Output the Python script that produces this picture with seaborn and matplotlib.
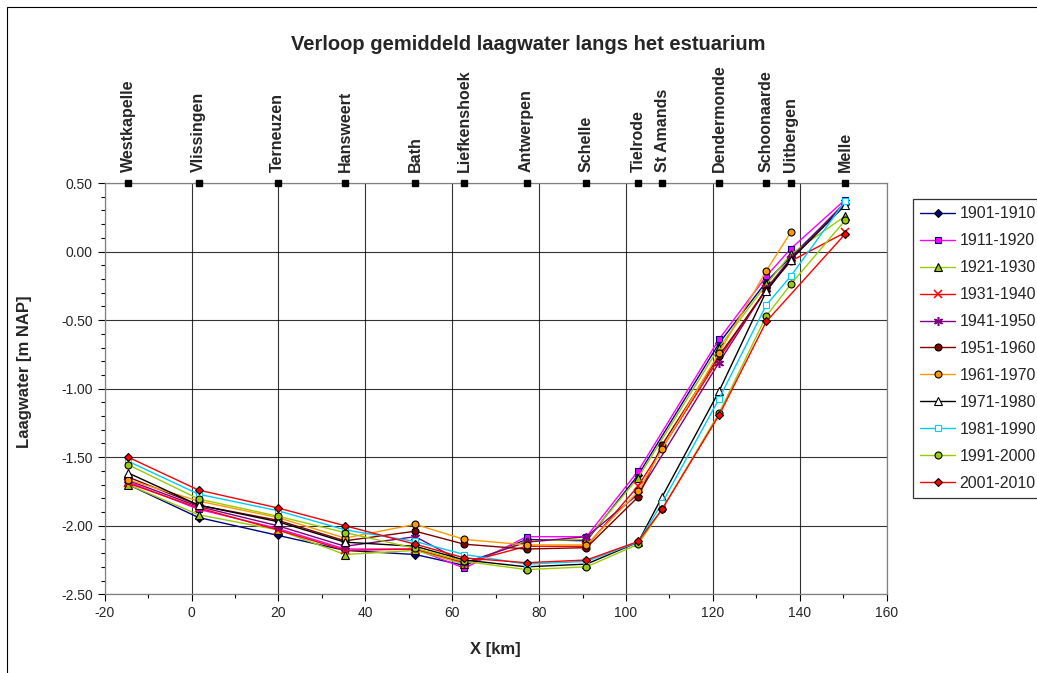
"""
Verloop gemiddeld laagwater langs het estuarium (Schelde),
decade means of low water per station.
"""
import numpy as np
import pandas as pd
import matplotlib
matplotlib.use("Agg")
import matplotlib.pyplot as plt
from matplotlib.patches import Rectangle
from matplotlib.ticker import MultipleLocator, FormatStrFormatter
import seaborn as sns

sns.set_theme(style="white")
plt.rcParams["font.family"] = ["Liberation Sans", "DejaVu Sans"]
plt.rcParams["axes.unicode_minus"] = False

# ── data ─────────────────────────────────────────────────────────────────────
STATIONS = ["Westkapelle", "Vlissingen", "Terneuzen", "Hansweert", "Bath",
            "Liefkenshoek", "Antwerpen", "Schelle", "Tielrode", "St Amands",
            "Dendermonde", "Schoonaarde", "Uitbergen", "Melle"]
STATION_KM = [-14.6, 1.6, 19.8, 35.3, 51.5, 62.8, 77.1, 90.9, 102.8, 108.3,
              121.4, 132.3, 137.9, 150.5]

nan = np.nan
lw_1901 = [-1.70, -1.94, -2.07, -2.18, -2.21, -2.29, -2.10, -2.11, -1.63, nan, -0.67, -0.22, -0.04, 0.35]
lw_1911 = [-1.68, -1.88, -2.02, -2.17, -2.17, -2.31, -2.08, -2.08, -1.60, nan, -0.64, -0.18, 0.02, 0.38]
lw_1921 = [-1.70, -1.92, -2.03, -2.21, -2.18, -2.28, -2.11, -2.10, -1.65, nan, -0.70, -0.24, -0.02, 0.26]
lw_1931 = [-1.69, -1.87, -2.03, -2.18, -2.17, -2.27, -2.15, -2.15, -1.71, nan, -0.78, -0.27, -0.07, 0.14]
lw_1941 = [-1.67, -1.86, -2.00, -2.15, -2.08, -2.27, -2.12, -2.08, -1.77, nan, -0.81, -0.27, -0.05, 0.36]
lw_1951 = [-1.645, -1.85, -1.96, -2.11, -2.04, -2.135, -2.17, -2.16, -1.79, -1.41, -0.76, -0.28, -0.07, nan]
lw_1961 = [-1.665, -1.82, -1.94, -2.09, -1.99, -2.10, -2.14, -2.14, -1.75, -1.44, -0.74, -0.14, 0.14, nan]
lw_1971 = [-1.615, -1.85, -1.97, -2.12, -2.15, -2.25, -2.30, -2.28, -2.12, -1.79, -1.02, -0.29, -0.06, 0.34]
lw_1981 = [-1.53, -1.77, -1.89, -2.03, -2.115, -2.21, -2.28, -2.26, -2.12, -1.835, -1.075, -0.39, -0.18, 0.37]
lw_1991 = [-1.555, -1.805, -1.93, -2.05, -2.165, -2.26, -2.32, -2.30, -2.135, -1.88, -1.18, -0.47, -0.24, 0.23]
lw_2001 = [-1.50, -1.74, -1.87, -2.00, -2.135, -2.235, -2.27, -2.25, -2.115, -1.88, -1.195, -0.51, nan, 0.13]

PERIODS = ["1901-1910", "1911-1920", "1921-1930", "1931-1940", "1941-1950",
           "1951-1960", "1961-1970", "1971-1980", "1981-1990", "1991-2000",
           "2001-2010"]
VALUES = [lw_1901, lw_1911, lw_1921, lw_1931, lw_1941, lw_1951, lw_1961,
          lw_1971, lw_1981, lw_1991, lw_2001]

# line colour, marker, face colour, edge colour, marker size
STYLE = {
    "1901-1910": ("#000080", "D", "#000080", "#000000", 4.5),
    "1911-1920": ("#FF00FF", "s", "#FF00FF", "#000080", 5),
    "1921-1930": ("#99CC00", "^", "#99CC00", "#000000", 5.5),
    "1931-1940": ("#FF0000", "x", "#FF0000", "#FF0000", 6),
    "1941-1950": ("#800080", (6, 2, 0), "#800080", "#800080", 6.5),
    "1951-1960": ("#800000", "o", "#800000", "#000000", 5),
    "1961-1970": ("#FF9900", "o", "#FF9900", "#000000", 5),
    "1971-1980": ("#000000", "^", "#FFFFFF", "#000000", 5.5),
    "1981-1990": ("#00CCFF", "s", "#FFFFFF", "#00CCFF", 5),
    "1991-2000": ("#99CC00", "o", "#99CC00", "#000000", 5),
    "2001-2010": ("#FF0000", "D", "#FF0000", "#000000", 4.5),
}

rows = []
for period, vals in zip(PERIODS, VALUES):
    for km, v in zip(STATION_KM, vals):
        rows.append({"period": period, "km": km, "laagwater": v})
df = pd.DataFrame(rows).dropna()

# ── plot ─────────────────────────────────────────────────────────────────────
fig = plt.figure(figsize=(10.37, 6.73), dpi=100)
ax = fig.add_axes([0.101, 0.117, 0.754, 0.611])

for period in PERIODS:
    col, mk, fc, ec, ms = STYLE[period]
    sub = df[df["period"] == period]
    sns.lineplot(data=sub, x="km", y="laagwater", ax=ax, color=col, lw=1.0,
                 marker=mk, markersize=ms, markerfacecolor=fc,
                 markeredgecolor=ec, markeredgewidth=0.8 if mk not in ("x", (6, 2, 0)) else 1.1,
                 estimator=None, errorbar=None, sort=True, label=period,
                 zorder=3)

# station markers + names along the top
ax.plot(STATION_KM, [0.5] * len(STATION_KM), ls="none", marker="s",
        ms=5, color="black", clip_on=False, zorder=5)
for name, km in zip(STATIONS, STATION_KM):
    ax.annotate(name, xy=(km, 0.5), xytext=(0, 8), textcoords="offset points",
                rotation=90, ha="center", va="bottom", fontsize=11.5,
                fontweight="bold")

ax.set_xlim(-20, 160)
ax.set_ylim(-2.5, 0.5)
ax.xaxis.set_major_locator(MultipleLocator(20))
ax.xaxis.set_minor_locator(MultipleLocator(10))
ax.yaxis.set_major_locator(MultipleLocator(0.5))
ax.yaxis.set_minor_locator(MultipleLocator(0.1))
ax.yaxis.set_major_formatter(FormatStrFormatter("%.2f"))
ax.tick_params(axis="both", which="major", direction="out", length=5,
               width=0.8, labelsize=10, color="black", left=True, bottom=True)
ax.tick_params(axis="both", which="minor", direction="out", length=3,
               width=0.8, color="black", left=True, bottom=True)
ax.grid(True, which="major", color="#000000", lw=0.8, alpha=0.8)
for s in ax.spines.values():
    s.set_color("#808080")
    s.set_linewidth(0.9)

ax.set_xlabel("X [km]", fontsize=12, fontweight="bold", labelpad=16)
ax.set_ylabel("Laagwater [m NAP]", fontsize=12, fontweight="bold")
ax.yaxis.set_label_coords(-0.093, 0.54)

fig.text(528 / 1037, 1 - 45 / 673, "Verloop gemiddeld laagwater langs het estuarium",
         ha="center", va="center", fontsize=14.5, fontweight="bold")

leg = ax.legend(loc="upper left", bbox_to_anchor=(913 / 1037, 1 - 199 / 673),
                bbox_transform=fig.transFigure, fontsize=11.5, frameon=True,
                fancybox=False, edgecolor="black", borderpad=0.45,
                labelspacing=0.75, handlelength=2.2, handletextpad=0.25,
                borderaxespad=0)
leg.get_frame().set_linewidth(0.9)

# outer chart-area border (extends past the right and bottom edges)
fig.patches.append(Rectangle((7 / 1037, -0.1), 1.2, 1.1 - 7 / 673,
                             transform=fig.transFigure, fill=False,
                             edgecolor="black", lw=0.8))

fig.savefig("out.png", dpi=100)
